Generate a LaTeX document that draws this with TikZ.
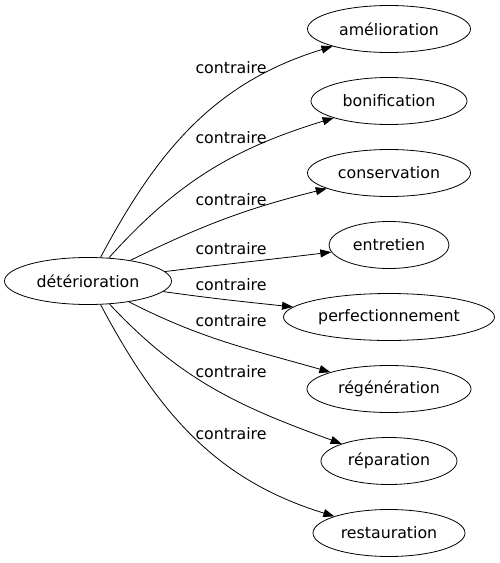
\documentclass[tikz,border=0pt]{standalone}
\usepackage{fontspec}
\setmainfont{DejaVu Sans}
\usetikzlibrary{arrows.meta,shapes.geometric}
\begin{document}
\begin{tikzpicture}[x=1pt,y=-1pt,
  word/.style={draw,ellipse,line width=0.8pt,minimum height=47pt,inner sep=0pt,font=\fontsize{15.8}{18}\selectfont},
  rel/.style={font=\fontsize{15.8}{18}\selectfont,inner sep=0pt},
  conn/.style={line width=0.8pt,-{Triangle[length=11pt,width=8pt]}}]
\useasboundingbox (0,0) rectangle (499,563);
\node[word,minimum width=167pt] (src) at (88,281) {détérioration};
\node[word,minimum width=163pt] (t1) at (389,29) {amélioration};
\node[word,minimum width=156pt] (t2) at (389,101) {bonification};
\node[word,minimum width=163pt] (t3) at (389,173) {conservation};
\node[word,minimum width=120pt] (t4) at (389,245) {entretien};
\node[word,minimum width=211pt] (t5) at (389,317) {perfectionnement};
\node[word,minimum width=164pt] (t6) at (389,389) {régénération};
\node[word,minimum width=136pt] (t7) at (389,461) {réparation};
\node[word,minimum width=152pt] (t8) at (389,533) {restauration};
\node[rel] (l1) at (231,68) {contraire};
\node[rel] (l2) at (231,138) {contraire};
\node[rel] (l3) at (231,200) {contraire};
\node[rel] (l4) at (231,249) {contraire};
\node[rel] (l5) at (231,285) {contraire};
\node[rel] (l6) at (231,321) {contraire};
\node[rel] (l7) at (231,372) {contraire};
\node[rel] (l8) at (231,434) {contraire};
\draw[conn] (src) to[out=62,in=197] (t1);
\draw[conn] (src) to[out=48,in=197] (t2);
\draw[conn] (src) to[out=26,in=194] (t3);
\draw[conn] (src) to[out=7,in=187] (t4);
\draw[conn] (src) to[out=-8,in=174] (t5);
\draw[conn] (src) to[out=-27,in=164] (t6);
\draw[conn] (src) to[out=-47,in=160] (t7);
\draw[conn] (src) to[out=-62,in=163] (t8);
\end{tikzpicture}
\end{document}
